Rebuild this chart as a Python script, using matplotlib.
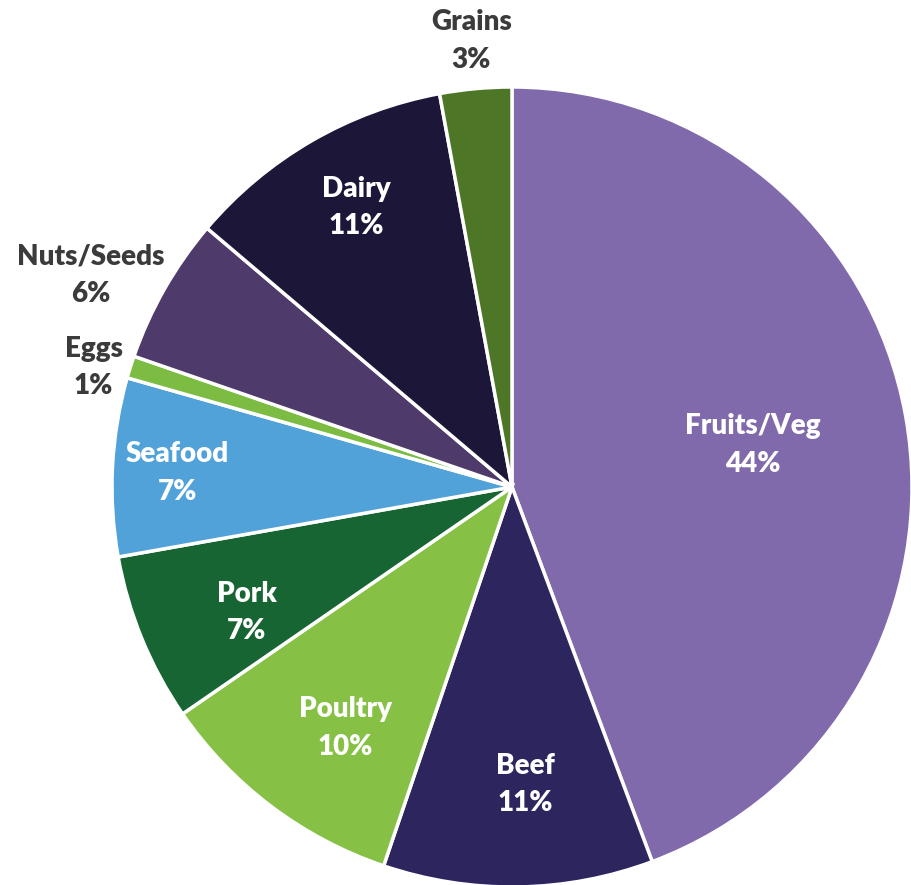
import matplotlib
matplotlib.use("Agg")
import matplotlib.pyplot as plt
import numpy as np

categories = ["Fruits/Veg", "Beef", "Poultry", "Pork", "Seafood", "Eggs", "Nuts/Seeds", "Dairy", "Grains"]
values = [44.3, 10.9, 10.2, 6.8, 7.2, 0.9, 5.9, 10.9, 2.9]
pct_labels = ["44%", "11%", "10%", "7%", "7%", "1%", "6%", "11%", "3%"]

colors = ["#806AAB", "#2D265E", "#86C146", "#186534", "#52A2DA", "#7CBC43", "#4E3B6C", "#1C1739", "#4E7627"]
label_dist = [0.612, 0.745, 0.733, 0.733, 0.838, 1.088, 1.18, 0.80, 1.12]
label_shift = [-0.4, 1.6, 2.4, 3.0, 0.5, 1.5, 3.0, -1.0, 0.0]
label_colors = ["white", "white", "white", "white", "white", "#3B3B3B", "#3B3B3B", "white", "#3B3B3B"]

fig = plt.figure(figsize=(9.11, 8.85), dpi=100)
ax = fig.add_axes([0, 0, 1, 1])
R = 400.0

wedges, _ = ax.pie(values, colors=colors, startangle=90, counterclock=False,
                   radius=1.0, center=(0, 0), frame=True,
                   wedgeprops=dict(edgecolor="white", linewidth=2.5))
ax.set_xlim(-512 / R, (911 - 512) / R)
ax.set_ylim(-(885 - 487) / R, 487 / R)
ax.axis("off")

for w, name, pct, d, s, c in zip(wedges, categories, pct_labels, label_dist, label_shift, label_colors):
    ang = np.deg2rad((w.theta1 + w.theta2) / 2 + s)
    x, y = d * np.cos(ang), d * np.sin(ang)
    ax.text(x, y, f"{name}\n{pct}", ha="center", va="center", color=c,
            fontsize=20, fontweight="heavy", family=["Lato", "DejaVu Sans"],
            linespacing=1.55)

fig.savefig("out.png", dpi=100)
